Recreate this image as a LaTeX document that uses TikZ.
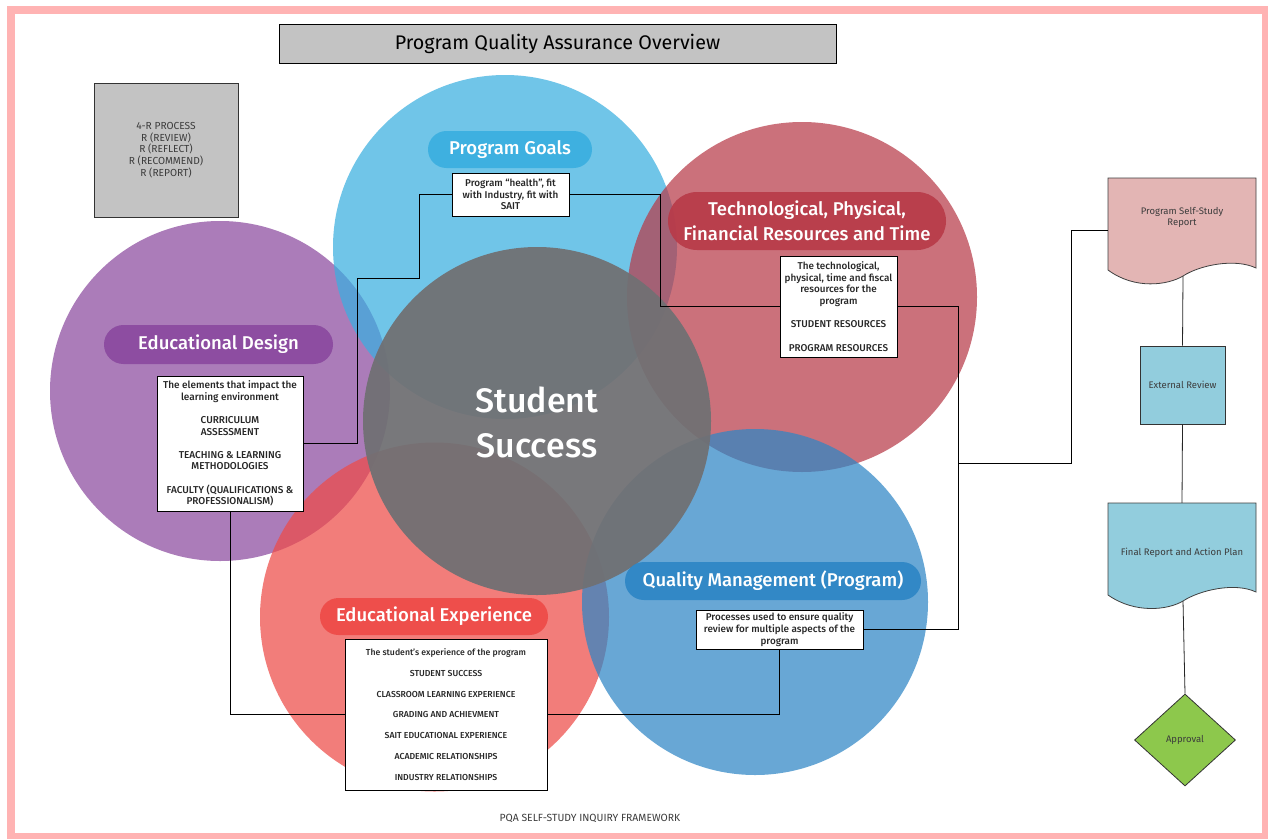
\documentclass[tikz,border=0pt]{standalone}
\usepackage{fontspec}
\setmainfont{Fira Sans}
\newfontfamily\medfont{Fira Sans Medium}
\usetikzlibrary{shapes.geometric}

% palette
\definecolor{goalsC}{RGB}{58,175,224}
\definecolor{techC}{RGB}{184,59,73}
\definecolor{designC}{RGB}{139,74,159}
\definecolor{expC}{RGB}{238,75,72}
\definecolor{qmC}{RGB}{46,134,197}
\definecolor{coreC}{RGB}{112,112,115}
\definecolor{panelC}{RGB}{195,195,195}
\definecolor{ssrC}{RGB}{227,181,180}
\definecolor{erC}{RGB}{146,205,221}
\definecolor{apC}{RGB}{141,200,76}
\definecolor{frameC}{RGB}{255,179,179}
\definecolor{inkC}{RGB}{60,60,60}

\tikzset{
  area/.style={fill=#1, fill opacity=0.72, draw=none},
  pill/.style={fill=#1, fill opacity=0.92, text opacity=1, text=white,
    inner sep=0pt, align=center, font=\medfont\fontsize{18.5}{25}\selectfont},
  note/.style={draw=black, fill=white, line width=0.9pt, inner sep=0pt,
    align=center, text=black!85, font=\medfont\fontsize{9.9}{11.7}\selectfont},
  panel/.style={draw=black, fill=panelC, line width=0.9pt, inner sep=0pt, align=center},
  flowtext/.style={inner sep=0pt, align=center, text=inkC, font=\fontsize{9.5}{11.5}\selectfont},
  link/.style={draw=black, line width=0.9pt},
  flowline/.style={draw=black!85, line width=0.8pt},
}

\begin{document}
\begin{tikzpicture}[x=1pt,y=-1pt]
\useasboundingbox (0,0) rectangle (1268,838);
\fill[white] (0,0) rectangle (1268,838);
\draw[frameC, line width=8pt] (11,10) rectangle (1266,837);

% title and process panel
\node[panel, minimum width=557pt, minimum height=39pt, font=\fontsize{19.7}{22}\selectfont] (title) at (557.5,43.5) {Program Quality Assurance Overview};
\node[panel, draw=black!80, minimum width=144pt, minimum height=134pt, text=inkC, font=\fontsize{10.2}{11.6}\selectfont] (fourr) at (166,150)
  {4-R PROCESS\\R (REVIEW)\\R (REFLECT)\\R (RECOMMEND)\\R (REPORT)};

% overlapping areas
\fill[area=designC] (220,391) circle[radius=170pt];
\fill[area=goalsC]  (505,247) circle[radius=172pt];
\fill[area=techC]   (802,297) circle[radius=175pt];
\fill[area=expC]    (434.5,617) circle[radius=174.5pt];
\fill[area=qmC]     (755,602) circle[radius=173pt];
\fill[coreC, fill opacity=0.94] (537,421) circle[radius=174pt];

\node[text=white, align=center, font=\medfont\fontsize{34}{45}\selectfont] (core) at (537,422) {Student\\Success};

% area headings
\node[pill=goalsC,  minimum width=164pt, minimum height=37pt, rounded corners=18.4pt] (goalsP)  at (510,149.5) {Program Goals};
\node[pill=techC,   minimum width=278pt, minimum height=58pt, rounded corners=28.9pt] (techP)   at (807,221) {Technological, Physical,\\Financial Resources and Time};
\node[pill=designC, minimum width=229pt, minimum height=39pt, rounded corners=19.4pt] (designP) at (218.5,344.5) {Educational Design};
\node[pill=expC,    minimum width=228pt, minimum height=37pt, rounded corners=18.4pt] (expP)    at (434,616.5) {Educational Experience};
\node[pill=qmC,     minimum width=296pt, minimum height=38pt, rounded corners=18.9pt] (qmP)     at (773,581) {Quality Management (Program)};

% descriptions
\node[note, minimum width=117pt, minimum height=43pt] (goalsbox) at (510.5,194.5)
  {Program “health”, fit\\with Industry, fit with\\SAIT};
\node[note, minimum width=117pt, minimum height=101pt] (techbox) at (838.5,306.5)
  {The technological,\\physical, time and fiscal\\resources for the\\program\\[11.7pt]STUDENT RESOURCES\\[11.7pt]PROGRAM RESOURCES};
\node[note, minimum width=146pt, minimum height=135pt, font=\medfont\fontsize{10}{11.6}\selectfont] (designbox) at (230,443.5)
  {The elements that impact the\\learning environment\\[11.6pt]CURRICULUM\\ASSESSMENT\\[11.6pt]TEACHING \& LEARNING\\METHODOLOGIES\\[11.6pt]FACULTY (QUALIFICATIONS \&\\PROFESSIONALISM)};
\node[note, minimum width=202pt, minimum height=151pt, font=\medfont\fontsize{8.7}{20.8}\selectfont] (expbox) at (446,714.5)
  {The student’s experience of the program\\STUDENT SUCCESS\\CLASSROOM LEARNING EXPERIENCE\\GRADING AND ACHIEVMENT\\SAIT EDUCATIONAL EXPERIENCE\\ACADEMIC RELATIONSHIPS\\INDUSTRY RELATIONSHIPS};
\node[note, minimum width=167pt, minimum height=39pt] (qmbox) at (779.5,629.5)
  {Processes used to ensure quality\\review for multiple aspects of the\\program};

% review flow shapes
\filldraw[fill=ssrC, draw=black!75, line width=0.8pt]
  (1108,178) -- (1256,178) -- (1256,268)
  .. controls (1235,258) and (1200,265) .. (1183,276)
  .. controls (1168,285) and (1135,290) .. (1108,270) -- cycle;
\filldraw[fill=erC, draw=black!75, line width=0.8pt]
  (1108,503) -- (1256,503) -- (1256,592)
  .. controls (1235,582) and (1200,590) .. (1183,601)
  .. controls (1168,610) and (1135,614) .. (1108,595) -- cycle;
\coordinate (ssrfoot) at (1183,276);
\coordinate (frfoot) at (1183,601);

\node[flowtext, minimum width=148pt, minimum height=79pt] (ssr) at (1182,217.5) {Program Self-Study\\Report};
\node[flowtext, minimum width=148pt, minimum height=99pt] (fr) at (1182,552.5) {Final Report and Action Plan};
\node[flowtext, draw=black!80, line width=0.8pt, fill=erC, minimum width=85pt, minimum height=78pt] (er) at (1182.5,385) {External Review};
\node[flowtext, diamond, draw=black!80, line width=0.8pt, fill=apC, minimum width=101pt, minimum height=92pt] (ap) at (1185,740) {Approval};

% connectors
\coordinate (hub) at (958,463);
\draw[link] (goalsbox.west) -- (419,194.5) -- (419,278) -- (357,278) |- (designbox.east);
\draw[link] (goalsbox.east) -| (660,306.5) -- (techbox.west);
\draw[link] (techbox.east) -| (hub) |- (qmbox.east);
\draw[link] (hub) -- (1071,463) |- ([yshift=-12.5pt]ssr.west);
\draw[link] (designbox.south) |- (expbox.west);
\draw[link] (expbox.east) -| (qmbox.south);
\draw[flowline] (ssrfoot) -- (er.north);
\draw[flowline] (er.south) -- (fr.north);
\draw[flowline] (frfoot) -- (ap.north);

\node[text=inkC, font=\fontsize{10.4}{12}\selectfont] (caption) at (590,818) {PQA SELF-STUDY INQUIRY FRAMEWORK};
\end{tikzpicture}
\end{document}
